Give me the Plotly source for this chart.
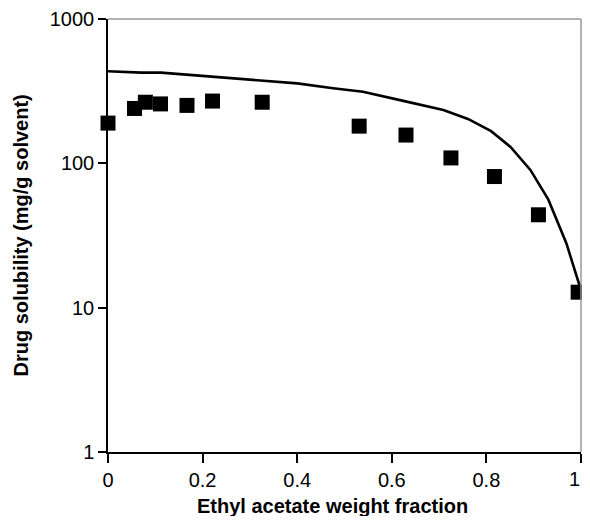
import plotly.graph_objects as go

# Experimental data (squares)
exp_x = [0.0, 0.056, 0.079, 0.111, 0.167, 0.221, 0.326, 0.531, 0.630, 0.725, 0.817, 0.910, 0.994]
exp_y = [190, 240, 265, 258, 252, 270, 265, 181, 157, 109, 81, 44, 12.8]

# Model curve (line)
model_x = [0.0, 0.02, 0.07, 0.112, 0.219, 0.31, 0.4, 0.476, 0.539, 0.622, 0.709, 0.761,
           0.81, 0.851, 0.893, 0.931, 0.969, 0.997]
model_y = [435, 432, 425, 425, 398, 378, 358, 331, 313, 272, 234, 203,
           167, 130, 90, 56, 28, 14.2]

x_ticks = [0, 0.2, 0.4, 0.6, 0.8, 1]
x_ticktext = ["0", "0.2", "0.4", "0.6", "0.8", "1"]
y_ticks = [1, 10, 100, 1000]
y_ticktext = ["1", "10", "100", "1000"]

fig = go.Figure()
fig.add_trace(go.Scatter(x=model_x, y=model_y, mode="lines",
                         line=dict(color="black", width=2.6), showlegend=False))
fig.add_trace(go.Scatter(x=exp_x, y=exp_y, mode="markers",
                         marker=dict(symbol="square", size=15, color="black"),
                         cliponaxis=False, showlegend=False))

font = "Liberation Sans, Arial, sans-serif"
fig.update_layout(
    width=574, height=508,
    margin=dict(l=100, r=1, t=11, b=64, autoexpand=False),
    paper_bgcolor="white", plot_bgcolor="white",
    font=dict(family=font, size=20, color="black"),
    xaxis=dict(range=[0, 1], tickvals=x_ticks, ticktext=x_ticktext,
               showgrid=False, zeroline=False, showline=True, linecolor="black",
               linewidth=1.5, ticks="outside", ticklen=9, tickwidth=1.5,
               tickcolor="black", tickfont=dict(size=20), automargin=False),
    yaxis=dict(type="log", range=[0, 3], tickvals=y_ticks, ticktext=y_ticktext,
               showgrid=False, zeroline=False, showline=True, linecolor="black",
               linewidth=1.5, ticks="outside", ticklen=8, tickwidth=1.5,
               tickcolor="black", tickfont=dict(size=20), automargin=False),
    shapes=[
        dict(type="line", xref="paper", yref="paper", x0=0, x1=1, y0=1, y1=1,
             line=dict(color="#999999", width=1.5)),
        dict(type="line", xref="paper", yref="paper", x0=1, x1=1, y0=0, y1=1,
             line=dict(color="#999999", width=1.5)),
    ],
    annotations=[
        # last x tick label (plotly drops it because it overflows the figure edge)
        dict(text=x_ticktext[-1], xref="x", yref="paper", x=x_ticks[-1], y=-0.062,
             xanchor="right", yanchor="middle", showarrow=False, xshift=1,
             font=dict(size=20, family=font)),
        dict(text="<b>Ethyl acetate weight fraction</b>", xref="paper", yref="paper",
             x=0.475, y=-0.125, xanchor="center", yanchor="middle", showarrow=False,
             font=dict(size=20, family=font)),
        dict(text="<b>Drug solubility (mg/g solvent)</b>", xref="paper", yref="paper",
             x=-0.184, y=0.5, xanchor="center", yanchor="middle", textangle=-90,
             showarrow=False, font=dict(size=20, family=font)),
    ],
)

fig.write_html("out.html")
